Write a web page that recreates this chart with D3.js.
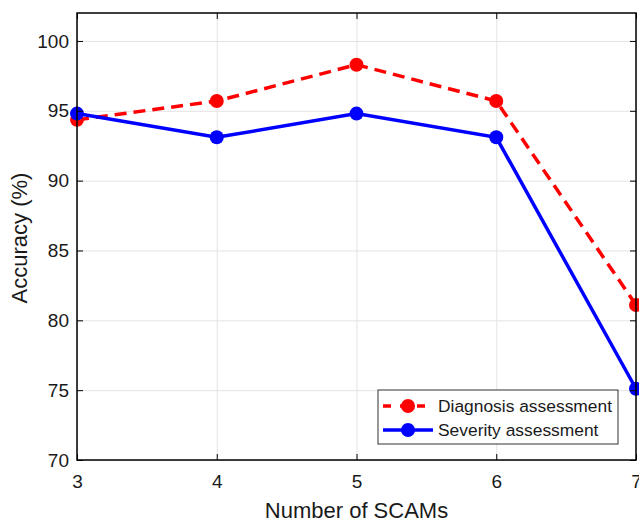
<!DOCTYPE html>
<html>
<head>
<meta charset="utf-8">
<style>
body { margin: 0; background: #fff; }
svg { font-family: "Liberation Sans", Arial, sans-serif; }
.grid line { stroke: #e3e3e3; stroke-width: 1; }
.grid path { display: none; }
.axis path { display: none; }
.axis line { stroke: #000; }
.axis text { font-size: 19px; fill: #1a1a1a; }
</style>
</head>
<body>
<script src="https://cdn.jsdelivr.net/npm/d3@7"></script>
<script>

var scams = [3, 4, 5, 6, 7];
var diagnosis = [94.35, 95.7, 98.3, 95.7, 81.1];
var severity = [94.8, 93.1, 94.8, 93.1, 75.1];
var yTicks = [70, 75, 80, 85, 90, 95, 100];

var width = 639, height = 522;
var mLeft = 77, mRight = 636, mTop = 13, mBottom = 460;

var svg = d3.select("body").append("svg")
    .attr("width", width)
    .attr("height", height);

var x = d3.scaleLinear().domain([3, 7]).range([mLeft, mRight]);
var y = d3.scaleLinear().domain([70, 102]).range([mBottom, mTop]);

// grid
svg.append("g")
    .attr("class", "grid")
    .attr("transform", "translate(0," + mBottom + ")")
    .call(d3.axisBottom(x).tickValues(scams).tickSize(-(mBottom - mTop)).tickFormat(""));
svg.append("g")
    .attr("class", "grid")
    .attr("transform", "translate(" + mLeft + ",0)")
    .call(d3.axisLeft(y).tickValues(yTicks).tickSize(-(mRight - mLeft)).tickFormat(""));

// lines
var line = d3.line()
    .x(function(d, i) { return x(scams[i]); })
    .y(function(d) { return y(d); });

svg.append("path")
    .datum(diagnosis)
    .attr("d", line)
    .attr("fill", "none")
    .attr("stroke", "#ff0000")
    .attr("stroke-width", 3.5)
    .attr("stroke-dasharray", "12,7");

svg.append("path")
    .datum(severity)
    .attr("d", line)
    .attr("fill", "none")
    .attr("stroke", "#0000ff")
    .attr("stroke-width", 3.5);

svg.selectAll(".dmark")
    .data(diagnosis)
    .enter().append("circle")
    .attr("class", "dmark")
    .attr("cx", function(d, i) { return x(scams[i]); })
    .attr("cy", function(d) { return y(d); })
    .attr("r", 7)
    .attr("fill", "#ff0000");

svg.selectAll(".smark")
    .data(severity)
    .enter().append("circle")
    .attr("class", "smark")
    .attr("cx", function(d, i) { return x(scams[i]); })
    .attr("cy", function(d) { return y(d); })
    .attr("r", 7)
    .attr("fill", "#0000ff");

// axes (ticks inside, box style)
svg.append("g")
    .attr("class", "axis")
    .attr("transform", "translate(0," + mBottom + ")")
    .call(d3.axisBottom(x).tickValues(scams).tickSize(-6).tickPadding(15).tickFormat(d3.format("d")));
svg.append("g")
    .attr("class", "axis")
    .attr("transform", "translate(0," + mTop + ")")
    .call(d3.axisTop(x).tickValues(scams).tickSize(-6).tickFormat(""));
svg.append("g")
    .attr("class", "axis")
    .attr("transform", "translate(" + mLeft + ",0)")
    .call(d3.axisLeft(y).tickValues(yTicks).tickSize(-6).tickPadding(8));
svg.append("g")
    .attr("class", "axis")
    .attr("transform", "translate(" + mRight + ",0)")
    .call(d3.axisRight(y).tickValues(yTicks).tickSize(-6).tickFormat(""));

svg.append("rect")
    .attr("x", mLeft)
    .attr("y", mTop)
    .attr("width", mRight - mLeft)
    .attr("height", mBottom - mTop)
    .attr("fill", "none")
    .attr("stroke", "#000")
    .attr("stroke-width", 1.5);

// axis labels
svg.append("text")
    .attr("x", (mLeft + mRight) / 2)
    .attr("y", 518)
    .attr("text-anchor", "middle")
    .attr("font-size", 22)
    .attr("fill", "#1a1a1a")
    .text("Number of SCAMs");

svg.append("text")
    .attr("transform", "translate(27," + 238 + ") rotate(-90)")
    .attr("text-anchor", "middle")
    .attr("font-size", 22)
    .attr("fill", "#1a1a1a")
    .text("Accuracy (%)");

// legend
var lg = svg.append("g").attr("transform", "translate(378,390)");
lg.append("rect")
    .attr("width", 240)
    .attr("height", 54)
    .attr("fill", "#fff")
    .attr("stroke", "#333")
    .attr("stroke-width", 1);

var items = [
  {name: "Diagnosis assessment", color: "#ff0000", dash: "8,9"},
  {name: "Severity assessment", color: "#0000ff", dash: null}
];
items.forEach(function(it, i) {
  var yy = 16 + i * 24;
  lg.append("line")
      .attr("x1", 5).attr("x2", 55)
      .attr("y1", yy).attr("y2", yy)
      .attr("stroke", it.color)
      .attr("stroke-width", 3.5)
      .attr("stroke-dasharray", it.dash);
  lg.append("circle")
      .attr("cx", 30).attr("cy", yy)
      .attr("r", 7)
      .attr("fill", it.color);
  lg.append("text")
      .attr("x", 60).attr("y", yy + 6)
      .attr("font-size", 17.4)
      .attr("fill", "#1a1a1a")
      .text(it.name);
});

</script>
</body>
</html>
